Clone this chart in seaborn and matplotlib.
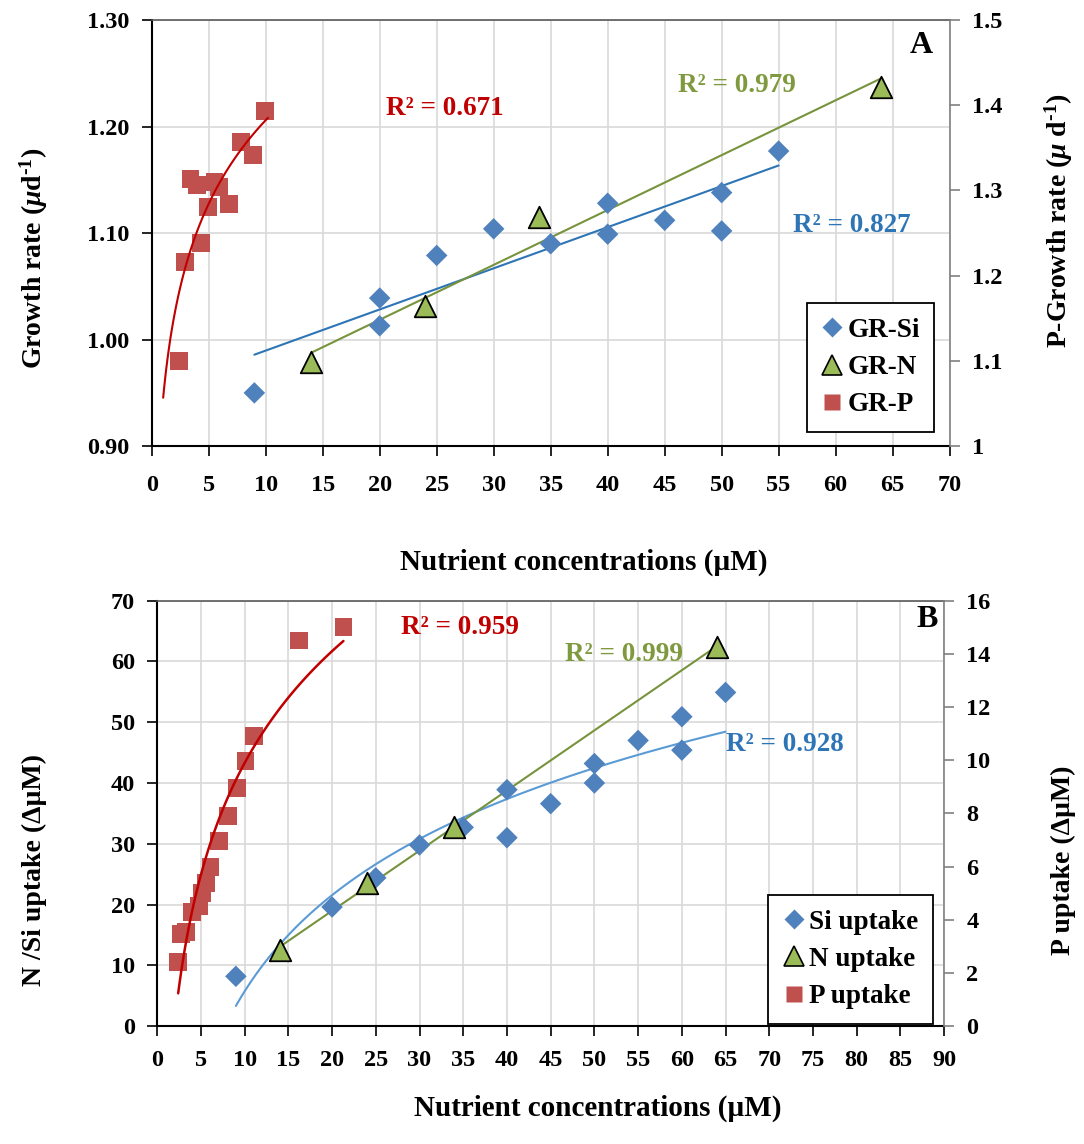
import numpy as np
import pandas as pd
import matplotlib
matplotlib.use("Agg")
import matplotlib.pyplot as plt
import seaborn as sns
from matplotlib.lines import Line2D

# ---- Panel A: growth rates ----
gr_si_x = [9, 20, 20, 25, 30, 35, 40, 40, 45, 50, 50, 55]
gr_si_y = [0.950, 1.039, 1.013, 1.079, 1.104, 1.090, 1.128, 1.099, 1.112, 1.138, 1.102, 1.177]
gr_n_x = [14, 24, 34, 64]
gr_n_y = [0.979, 1.032, 1.115, 1.237]
gr_p_x = [2.4, 2.9, 3.4, 4.0, 4.3, 4.9, 5.5, 5.9, 6.8, 7.8, 8.9, 9.9]
gr_p_y = [1.100, 1.216, 1.313, 1.306, 1.238, 1.281, 1.310, 1.304, 1.284, 1.357, 1.342, 1.393]

# ---- Panel B: uptake ----
si_x = [9, 20, 25, 30, 35, 40, 40, 45, 50, 50, 55, 60, 60, 65]
si_y = [8.2, 19.6, 24.4, 29.8, 32.7, 38.9, 31.0, 36.6, 43.2, 40.0, 47.0, 50.9, 45.4, 54.9]
n_x = [14, 24, 34, 64]
n_y = [12.6, 23.5, 32.8, 62.4]
p_x = [2.4, 2.7, 3.3, 4.0, 4.8, 5.1, 5.6, 6.1, 7.1, 8.1, 9.1, 10.1, 11.1, 16.2, 21.3]
p_y = [2.41, 3.45, 3.53, 4.28, 4.51, 5.00, 5.38, 5.98, 6.96, 7.90, 8.94, 9.97, 10.91, 14.5, 15.02]

r2_a = ["R² = 0.671", "R² = 0.979", "R² = 0.827"]
r2_b = ["R² = 0.959", "R² = 0.999", "R² = 0.928"]

BLUE, GREEN, RED = "#4f81bd", "#9bbb59", "#c0504d"
BLUE_LN, GREEN_LN, RED_LN = "#2e75b6", "#77933c", "#c00000"
BLUE_TX, GREEN_TX, RED_TX = "#2e75b6", "#7f9a3e", "#c00000"

sns.set_theme(style="white")
plt.rcParams["font.family"] = ["Liberation Serif", "DejaVu Serif"]
plt.rcParams["font.weight"] = "bold"
plt.rcParams["axes.labelweight"] = "bold"
plt.rcParams["text.color"] = "black"
plt.rcParams["axes.labelcolor"] = "black"
plt.rcParams["mathtext.fontset"] = "custom"
plt.rcParams["mathtext.rm"] = "Liberation Serif:bold"
plt.rcParams["mathtext.it"] = "Liberation Serif:italic:bold"
plt.rcParams["mathtext.bf"] = "Liberation Serif:bold"

TICK_FS = 17.5
LABEL_FS = 20
R2_FS = 19.5


def trend(x, y, kind, x0, x1):
    xs = np.linspace(x0, x1, 100)
    if kind == "log":
        a, b = np.polyfit(np.log(x), y, 1)
        ys = a * np.log(xs) + b
    else:
        a, b = np.polyfit(x, y, 1)
        ys = a * xs + b
    return pd.DataFrame({"x": xs, "y": ys})


def style(ax, ax2, xpad):
    ax.set_axisbelow(True)
    ax.grid(True, color="#d9d9d9", lw=1.2)
    for s in ["left", "bottom"]:
        ax.spines[s].set_color("black")
        ax.spines[s].set_linewidth(1.5)
    ax.spines["top"].set_color("#595959")
    ax.spines["top"].set_linewidth(1.2)
    ax.spines["right"].set_visible(False)
    for s in ["left", "bottom", "top"]:
        ax2.spines[s].set_visible(False)
    ax2.spines["right"].set_color("#808080")
    ax2.spines["right"].set_linewidth(1.2)
    ax.tick_params(axis="both", direction="out", length=7, width=1.2,
                   color="black", labelcolor="black", labelsize=TICK_FS,
                   left=True, bottom=True)
    ax.tick_params(axis="y", pad=9)
    ax.tick_params(axis="x", pad=xpad)
    ax2.tick_params(axis="y", direction="out", length=7, width=1.2,
                    color="#808080", labelcolor="black", labelsize=TICK_FS,
                    right=True, pad=9)
    ax2.grid(False)


fig = plt.figure(figsize=(10.84, 11.44), dpi=100)

# ================= Panel A =================
axA = fig.add_axes([0.140, 0.610, 0.736, 0.3725])
axA2 = axA.twinx()

sns.lineplot(data=trend(gr_si_x, gr_si_y, "lin", 9, 55), x="x", y="y", ax=axA,
             color=BLUE_LN, lw=1.5)
sns.lineplot(data=trend(gr_n_x, gr_n_y, "lin", 14, 64), x="x", y="y", ax=axA,
             color=GREEN_LN, lw=1.5)
sns.scatterplot(x=gr_si_x, y=gr_si_y, ax=axA, marker="D", s=120, color=BLUE,
                edgecolor="none", zorder=3)
sns.scatterplot(x=gr_n_x, y=gr_n_y, ax=axA, marker="^", s=240, color=GREEN,
                edgecolor="black", linewidth=1.3, zorder=3)
sns.scatterplot(x=gr_p_x, y=gr_p_y, ax=axA2, marker="s", s=165, color=RED,
                edgecolor="none", zorder=3)
sns.lineplot(data=trend(gr_p_x, gr_p_y, "log", 1.0, 10.2), x="x", y="y", ax=axA2,
             color=RED_LN, lw=1.5, zorder=4)

axA.set_xlim(0, 70)
axA.set_xticks(range(0, 71, 5))
axA.set_ylim(0.9, 1.3)
axA.set_yticks([0.9, 1.0, 1.1, 1.2, 1.3])
axA.set_yticklabels([f"{v:.2f}" for v in [0.9, 1.0, 1.1, 1.2, 1.3]])
axA2.set_ylim(1.0, 1.5)
axA2.set_yticks([1.0, 1.1, 1.2, 1.3, 1.4, 1.5])
axA2.set_yticklabels(["1", "1.1", "1.2", "1.3", "1.4", "1.5"])
style(axA, axA2, 14)

axA.set_xlabel("Nutrient concentrations (µM)", fontsize=21)
axA.xaxis.set_label_coords(0.541, -0.240)
axA.set_ylabel(r"Growth rate ($\mu$d$^{\text{-}1}$)", fontsize=LABEL_FS)
axA.yaxis.set_label_coords(-0.128, 0.44)
axA2.set_ylabel(r"P-Growth rate ($\mu$ d$^{\text{-}1}$)", fontsize=LABEL_FS, rotation=90)
axA2.yaxis.set_label_coords(1.117, 0.53)

axA.text(0.367, 0.793, r2_a[0], transform=axA.transAxes, color=RED_TX,
         fontsize=R2_FS, ha="center", va="center")
axA.text(0.734, 0.847, r2_a[1], transform=axA.transAxes, color=GREEN_TX,
         fontsize=R2_FS, ha="center", va="center")
axA.text(0.877, 0.518, r2_a[2], transform=axA.transAxes, color=BLUE_TX,
         fontsize=R2_FS, ha="center", va="center")
axA.text(0.965, 0.941, "A", transform=axA.transAxes, color="black",
         fontsize=23, ha="center", va="center")

# ================= Panel B =================
axB = fig.add_axes([0.145, 0.103, 0.726, 0.372])
axB2 = axB.twinx()

sns.lineplot(data=trend(si_x, si_y, "log", 9, 65), x="x", y="y", ax=axB,
             color="#5b9bd5", lw=1.5)
sns.lineplot(data=trend(n_x, n_y, "lin", 14, 64), x="x", y="y", ax=axB,
             color=GREEN_LN, lw=1.5)
sns.scatterplot(x=si_x, y=si_y, ax=axB, marker="D", s=120, color=BLUE,
                edgecolor="none", zorder=3)
sns.scatterplot(x=n_x, y=n_y, ax=axB, marker="^", s=240, color=GREEN,
                edgecolor="black", linewidth=1.3, zorder=3)
sns.scatterplot(x=p_x, y=p_y, ax=axB2, marker="s", s=165, color=RED,
                edgecolor="none", zorder=3)
sns.lineplot(data=trend(p_x, p_y, "log", 2.4, 21.3), x="x", y="y", ax=axB2,
             color=RED_LN, lw=1.8, zorder=4)

axB.set_xlim(0, 90)
axB.set_xticks(range(0, 91, 5))
axB.set_ylim(0, 70)
axB.set_yticks(range(0, 71, 10))
axB2.set_ylim(0, 16)
axB2.set_yticks(range(0, 17, 2))
style(axB, axB2, 10)

axB.set_xlabel("Nutrient concentrations (µM)", fontsize=21)
axB.xaxis.set_label_coords(0.560, -0.160)
axB.set_ylabel("N /Si uptake (ΔµM)", fontsize=LABEL_FS)
axB.yaxis.set_label_coords(-0.140, 0.367)
axB2.set_ylabel("P uptake (ΔµM)", fontsize=LABEL_FS, rotation=90)
axB2.yaxis.set_label_coords(1.135, 0.39)

axB.text(0.385, 0.936, r2_b[0], transform=axB.transAxes, color=RED_TX,
         fontsize=R2_FS, ha="center", va="center")
axB.text(0.593, 0.873, r2_b[1], transform=axB.transAxes, color=GREEN_TX,
         fontsize=R2_FS, ha="center", va="center")
axB.text(0.798, 0.661, r2_b[2], transform=axB.transAxes, color=BLUE_TX,
         fontsize=R2_FS, ha="center", va="center")
axB.text(0.978, 0.955, "B", transform=axB.transAxes, color="black",
         fontsize=23, ha="center", va="center")


def add_legend(ax, labels, anchor, pad):
    handles = [
        Line2D([], [], ls="none", marker="D", ms=10.5, color=BLUE, mec="none"),
        Line2D([], [], ls="none", marker="^", ms=14, color=GREEN, mec="black", mew=1.2),
        Line2D([], [], ls="none", marker="s", ms=12, color=RED, mec="none"),
    ]
    leg = ax.legend(handles, labels, loc="lower right", bbox_to_anchor=anchor,
                    frameon=True, fancybox=False, fontsize=19.5, handlelength=0.8,
                    handletextpad=0.15, labelspacing=0.45, borderpad=pad,
                    borderaxespad=0)
    leg.get_frame().set_edgecolor("black")
    leg.get_frame().set_linewidth(1.3)
    leg.get_frame().set_alpha(1)
    leg.set_zorder(10)


for a in [axA, axA2, axB, axB2]:
    if a.get_legend() is not None:
        a.get_legend().remove()

add_legend(axA2, ["GR-Si", "GR-N", "GR-P"], (0.981, 0.033), 0.55)
add_legend(axB2, ["Si uptake", "N uptake", "P uptake"], (0.986, 0.005), 0.55)

fig.savefig("out.png", dpi=100)
